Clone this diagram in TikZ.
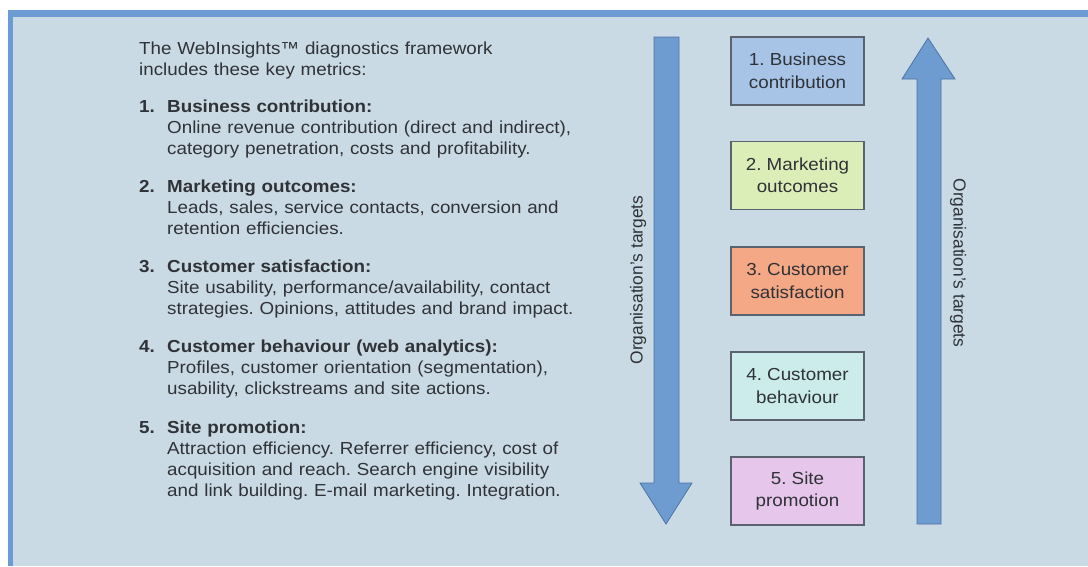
\documentclass[tikz,border=0pt]{standalone}
\usepackage{fontspec}
\setmainfont{Liberation Sans}[FakeStretch=1.08]
\newfontfamily\rotfont{Liberation Sans}
\frenchspacing
\definecolor{panel}{HTML}{CADAE4}
\definecolor{edgeblue}{HTML}{6B9BD2}
\definecolor{arrowfill}{HTML}{6E9BD0}
\definecolor{arrowline}{HTML}{4D73A6}
\definecolor{txt}{HTML}{2F3237}
\definecolor{boxline}{HTML}{5A6270}
\definecolor{cA}{HTML}{A7C3E6}
\definecolor{cB}{HTML}{DCEEB8}
\definecolor{cC}{HTML}{F4A886}
\definecolor{cD}{HTML}{CBECEA}
\definecolor{cE}{HTML}{E6C6EA}
\begin{document}
\begin{tikzpicture}[x=1pt,y=-1pt,
  every node/.style={text=txt, font=\fontsize{17.4}{21.3}\selectfont, inner sep=0pt},
  listtext/.style={anchor=base west, text width=480pt, align=left},
  numtext/.style={anchor=base west, font=\fontsize{17.4}{21.3}\selectfont\bfseries},
  metricbox/.style={draw=boxline, line width=1.3pt, minimum width=133pt, minimum height=68pt, align=center, font=\fontsize{17.4}{22.5}\selectfont},
  bigarrow/.style={fill=arrowfill, draw=arrowline, line width=0.8pt, line join=miter},
  rottext/.style={font=\fontsize{17.4}{21}\selectfont\rotfont}
]
\useasboundingbox (0,0) rectangle (1088,566);
\fill[white] (0,0) rectangle (1088,566);
\fill[panel] (8,10) rectangle (1088,566);
\fill[edgeblue] (8,10) rectangle (1088,17);
\fill[edgeblue] (8,10) rectangle (13,566);

% intro text
\node[listtext] (intro) at (139,54) {The WebInsights™ diagnostics framework\\includes these key metrics:};

% list items
\node[numtext] (n1) at (139,112) {1.};
\node[listtext] (t1) at (167,112) {\textbf{Business contribution:}\\Online revenue contribution (direct and indirect),\\category penetration, costs and profitability.};
\node[numtext] (n2) at (139,192) {2.};
\node[listtext] (t2) at (167,192) {\textbf{Marketing outcomes:}\\Leads, sales, service contacts, conversion and\\retention efficiencies.};
\node[numtext] (n3) at (139,272) {3.};
\node[listtext] (t3) at (167,272) {\textbf{Customer satisfaction:}\\Site usability, performance/availability, contact\\strategies. Opinions, attitudes and brand impact.};
\node[numtext] (n4) at (139,352) {4.};
\node[listtext] (t4) at (167,352) {\textbf{Customer behaviour (web analytics):}\\Profiles, customer orientation (segmentation),\\usability, clickstreams and site actions.};
\node[numtext] (n5) at (139,433) {5.};
\node[listtext] (t5) at (167,433) {\textbf{Site promotion:}\\Attraction efficiency. Referrer efficiency, cost of\\acquisition and reach. Search engine visibility\\and link building. E-mail marketing. Integration.};

% down arrow
\draw[bigarrow] (654,37) -- (679,37) -- (679,483) -- (692,483) -- (666,524) -- (640,483) -- (654,483) -- cycle;
% up arrow
\draw[bigarrow] (917,524) -- (941,524) -- (941,79) -- (955,79) -- (928,38) -- (902,79) -- (917,79) -- cycle;

\node[rottext, rotate=90] (lt) at (638,280) {Organisation’s targets};
\node[rottext, rotate=-90] (rt) at (958,263) {Organisation’s targets};

% metric boxes
\node[metricbox, fill=cA] (b1) at (797.5,71) {1. Business\\contribution};
\node[metricbox, fill=cB] (b2) at (797.5,175.5) {2. Marketing\\outcomes};
\node[metricbox, fill=cC] (b3) at (797.5,281) {3. Customer\\satisfaction};
\node[metricbox, fill=cD] (b4) at (797.5,386) {4. Customer\\behaviour};
\node[metricbox, fill=cE] (b5) at (797.5,491) {5. Site\\promotion};
\end{tikzpicture}
\end{document}
